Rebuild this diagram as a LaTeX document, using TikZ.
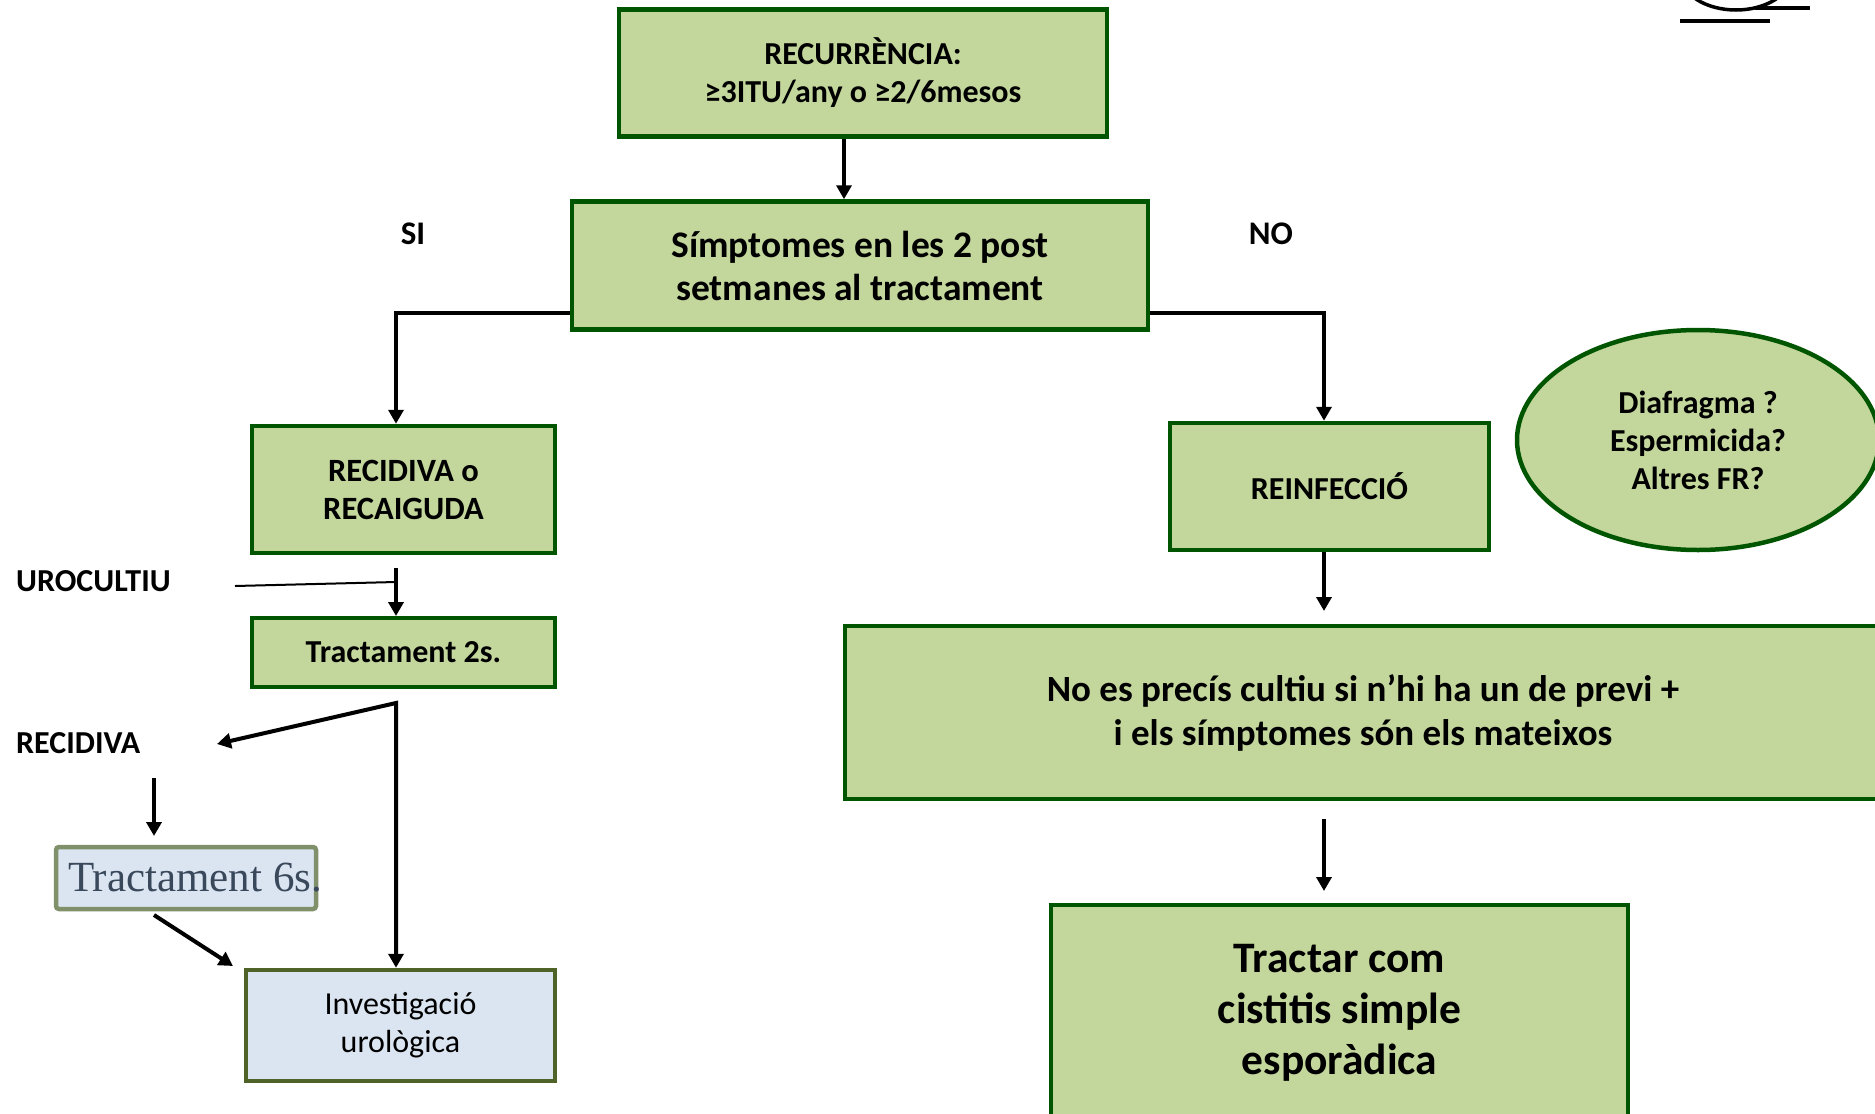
\documentclass[tikz,border=0pt]{standalone}
\usepackage{fontspec}
\setmainfont{Carlito}
\newfontfamily\serifT{Liberation Serif}
\usetikzlibrary{arrows.meta,shapes.geometric}
\definecolor{gfill}{RGB}{195,214,155}
\definecolor{gdraw}{RGB}{0,85,0}
\definecolor{bfill}{RGB}{219,229,241}
\definecolor{odraw}{RGB}{79,98,40}
\definecolor{tsixdraw}{RGB}{127,144,106}
\definecolor{tsixtext}{RGB}{58,72,92}
\begin{document}
\begin{tikzpicture}[x=1pt,y=-1pt,
  gbox/.style={draw=gdraw, fill=gfill, line width=4.5pt, align=center, inner sep=0pt},
  arr/.style={line width=4pt, -{Triangle[length=14pt,width=15pt]}},
  lbl/.style={inner sep=0pt, font=\fontsize{32}{38}\selectfont\bfseries}]
\useasboundingbox (0,0) rectangle (1875,1114);
\clip (0,0) rectangle (1875,1114);
\fill[white] (0,0) rectangle (1875,1114);

% nodes
\node[gbox, minimum width=488, minimum height=127, font=\fontsize{32}{38}\selectfont\bfseries] (top) at (863,73) {RECURRÈNCIA:\\≥3ITU/any o ≥2/6mesos};
\node[gbox, minimum width=576, minimum height=128, font=\fontsize{37.5}{43}\selectfont\bfseries] (symp) at (860,265.5) {Símptomes en les 2 post\\setmanes al tractament};
\node[lbl, font=\fontsize{33}{38}\selectfont\bfseries] (si) at (413,234) {SI};
\node[lbl, font=\fontsize{33}{38}\selectfont\bfseries] (no) at (1271,234) {NO};
\node[gbox, minimum width=303, minimum height=127, font=\fontsize{32.5}{38}\selectfont\bfseries] (recA) at (403.5,489.5) {RECIDIVA o\\RECAIGUDA};
\node[lbl, anchor=west] (uro) at (16,581) {UROCULTIU};
\node[gbox, minimum width=303, minimum height=69, font=\fontsize{32}{38}\selectfont\bfseries] (t2) at (403.5,652.5) {Tractament 2s.};
\node[lbl, anchor=west] (rec) at (16,743) {RECIDIVA};
\node[draw=tsixdraw, fill=bfill, line width=4.5pt, rounded corners=3pt, minimum width=260, minimum height=62, inner xsep=12pt, inner ysep=0pt, text=tsixtext, font=\serifT\fontsize{43}{46}\selectfont] (t6) at (186,878) {\makebox[236pt][l]{Tractament 6s.}};
\node[draw=odraw, fill=bfill, line width=4.5pt, minimum width=309, minimum height=111, inner sep=0pt, align=center, font=\fontsize{32}{38}\selectfont] (inv) at (400.5,1025.5) {Investigació\\urològica};
\node[gbox, minimum width=319, minimum height=127, font=\fontsize{32}{38}\selectfont\bfseries] (reinf) at (1329.5,486.5) {REINFECCIÓ};
\node[gbox, ellipse, minimum width=362, minimum height=220, font=\fontsize{32}{38}\selectfont\bfseries] (fr) at (1698,440) {Diafragma ?\\Espermicida?\\Altres FR?};
\node[gbox, minimum width=1036, minimum height=173, font=\fontsize{37}{44}\selectfont\bfseries] (big) at (1363,712.5) {No es precís cultiu si n’hi ha un de previ +\\i els símptomes són els mateixos};
\node[gbox, minimum width=577, minimum height=216, font=\fontsize{43.5}{51}\selectfont\bfseries] (tractar) at (1339.5,1013) {Tractar com\\cistitis simple\\esporàdica};

% helper coordinates
\coordinate (cxT) at (844,0);
\coordinate (yS) at (0,313);
\coordinate (cxL) at (396,0);
\coordinate (cxR) at (1324,0);
\coordinate (u1) at (396,568);
\coordinate (u2) at (396,616);
\coordinate (u3) at (235,586);
\coordinate (u4) at (396,582);
\coordinate (sp) at (396,703);
\coordinate (rtip) at (217,744);
\coordinate (r1) at (154,778);
\coordinate (r2) at (154,836);
\coordinate (d1) at (154,915);
\coordinate (d2) at (233,966);
\coordinate (n1) at (1324,611);
\coordinate (n2) at (1324,819);
\coordinate (n3) at (1324,891);

% connectors
\draw[arr] (top.south -| cxT) -- (symp.north -| cxT);
\draw[arr] (symp.west |- yS) -| (recA.north -| cxL);
\draw[arr] (symp.east |- yS) -| (reinf.north -| cxR);
\draw[arr] (u1) -- (u2);
\draw[line width=2pt] (u3) -- (u4);
\draw[line width=4pt, {Triangle[length=14pt,width=15pt]}-{Triangle[length=14pt,width=15pt]}] (rtip) -- (sp) -- (inv.north -| sp);
\draw[arr] (r1) -- (r2);
\draw[arr] (d1) -- (d2);
\draw[arr] (reinf.south -| cxR) -- (n1);
\draw[arr] (n2) -- (n3);

% top-right fragment
\draw[line width=3.5pt] (1736,-25) ellipse [x radius=55, y radius=35];
\draw[line width=3.5pt] (1755,8) -- (1810,8);
\draw[line width=4pt] (1680,21) -- (1770,21);
\end{tikzpicture}
\end{document}
